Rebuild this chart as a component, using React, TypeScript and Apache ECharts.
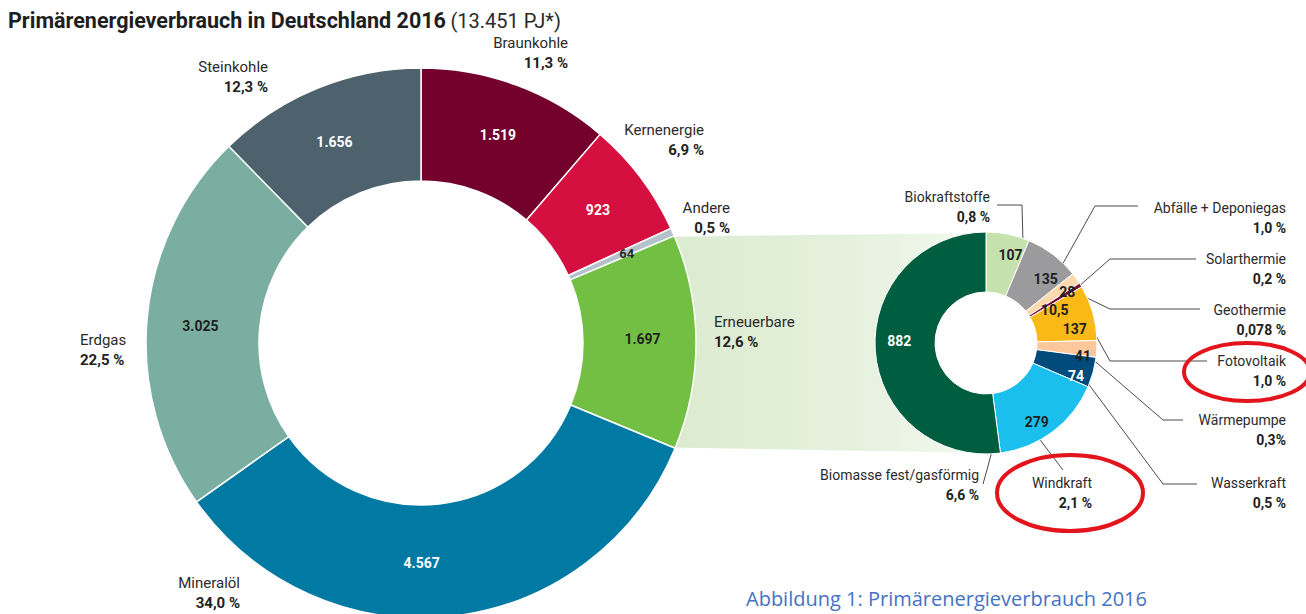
import React, { useEffect, useRef } from "react";
import * as echarts from "echarts";

// ---------- DATA ----------
const mainCategories = ["Braunkohle", "Kernenergie", "Andere", "Erneuerbare", "Mineralöl", "Erdgas", "Steinkohle"];
const mainValues = [1519, 923, 64, 1697, 4567, 3025, 1656];
const mainShares = ["11,3 %", "6,9 %", "0,5 %", "12,6 %", "34,0 %", "22,5 %", "12,3 %"];

const renewCategories = [
  "Biokraftstoffe",
  "Abfälle + Deponiegas",
  "Solarthermie",
  "Geothermie",
  "Fotovoltaik",
  "Wärmepumpe",
  "Wasserkraft",
  "Windkraft",
  "Biomasse fest/gasförmig",
];
const renewValues = [107, 135, 28, 10.5, 137, 41, 74, 279, 882];
const renewShares = ["0,8 %", "1,0 %", "0,2 %", "0,078 %", "1,0 %", "0,3%", "0,5 %", "2,1 %", "6,6 %"];

const titleMain = "Primärenergieverbrauch in Deutschland 2016";
const titleTotal = "(13.451 PJ*)";
const captionText = "Abbildung 1: Primärenergieverbrauch 2016";

// ---------- STYLES / LAYOUT ----------
const mainColors = ["#74002c", "#d51041", "#b3c2ca", "#72bf44", "#0079a3", "#7aaea0", "#4d626c"];
const mainValueText = ["#ffffff", "#ffffff", "#2a2a2a", "#1f1f1f", "#ffffff", "#1f1f1f", "#ffffff"];
const renewColors = ["#c5e1ae", "#9b9b9d", "#fdd9ad", "#7a0a32", "#fbb917", "#fbc79b", "#004b7c", "#1bbfee", "#005e40"];
const renewValueText = ["#1f1f1f", "#1f1f1f", "#1f1f1f", "#1f1f1f", "#1f1f1f", "#1f1f1f", "#ffffff", "#1f1f1f", "#ffffff"];

const MAIN_CENTER = [421, 343];
const MAIN_R = [162, 275];
const REN_CENTER = [986, 343];
const REN_R = [51, 111];

type Pos = { x: number; y: number; align: "left" | "right" | "center" };
const mainLabelPos: Pos[] = [
  { x: 568, y: 53, align: "right" },
  { x: 704, y: 140, align: "right" },
  { x: 730, y: 218, align: "right" },
  { x: 714, y: 332, align: "left" },
  { x: 240, y: 593, align: "right" },
  { x: 80, y: 350, align: "left" },
  { x: 268, y: 77, align: "right" },
];
const mainValueShift = [[0, 0], [0, 0], [3, 0], [0, -3], [-24, 0], [0, 3], [-3, 4]];

const renewLabelPos: Pos[] = [
  { x: 990, y: 207, align: "right" },
  { x: 1286, y: 218, align: "right" },
  { x: 1286, y: 269, align: "right" },
  { x: 1286, y: 320, align: "right" },
  { x: 1286, y: 371, align: "right" },
  { x: 1286, y: 430, align: "right" },
  { x: 1286, y: 493, align: "right" },
  { x: 1092, y: 493, align: "right" },
  { x: 979, y: 485, align: "right" },
];
const renewLeaders = [
  [[1023, 243], [1022, 205], [997, 205]],
  [[1061, 267], [1095, 206], [1138, 206]],
  [[1078, 287], [1110, 259], [1196, 259]],
  [[1085, 297], [1110, 309], [1200, 309]],
  [[1090, 325], [1110, 361], [1207, 361]],
  [[1090, 357], [1163, 420], [1183, 420]],
  [[1087, 382], [1163, 484], [1197, 484]],
  [[1038, 437], [1050, 453], [1063, 470]],
  [[993, 447], [988, 466], [983, 484]],
];
const renewValueShift = [[8, -6], [9, 3], [13, -2], [-3, 11], [8, 9], [13, 8], [9, 11], [0, 12], [-3, -7]];

function fmtDe(v: number): string {
  const [i, d] = String(v).split(".");
  const intPart = i.replace(/\B(?=(\d{3})+(?!\d))/g, ".");
  return d ? intPart + "," + d : intPart;
}

function polar(c: number[], r: number, deg: number): number[] {
  const a = (deg * Math.PI) / 180;
  return [c[0] + r * Math.cos(a), c[1] - r * Math.sin(a)];
}

export default function App() {
  const ref = useRef<HTMLDivElement>(null);

  useEffect(() => {
    if (!ref.current) return;
    const chart = echarts.init(ref.current, null, { renderer: "svg" });

    const mainTotal = mainValues.reduce((a, b) => a + b, 0);
    const ernIdx = mainCategories.indexOf("Erneuerbare");
    const before = mainValues.slice(0, ernIdx).reduce((a, b) => a + b, 0);
    const a0 = 90 - (before / mainTotal) * 360;
    const a1 = 90 - ((before + mainValues[ernIdx]) / mainTotal) * 360;

    const bandPts: number[][] = [];
    bandPts.push(polar(MAIN_CENTER, MAIN_R[1] - 2, a0));
    for (let d = 90; d <= 270; d += 5) bandPts.push(polar(REN_CENTER, REN_R[1] - 1, d));
    bandPts.push(polar(MAIN_CENTER, MAIN_R[1] - 2, a1));

    const font = "Roboto";

    const option: any = {
      animation: false,
      backgroundColor: "#ffffff",
      textStyle: { fontFamily: font },
      title: [
        {
          text: `{b|${titleMain}} {r|${titleTotal}}`,
          left: 8,
          top: 8,
          padding: 0,
          textStyle: {
            rich: {
              b: { fontFamily: font, fontSize: 21.5, fontWeight: "bold", color: "#1e1e1e", lineHeight: 25 },
              r: { fontFamily: font, fontSize: 20, fontWeight: "normal", color: "#2a2a2a", lineHeight: 25 },
            },
          },
        },
        {
          text: captionText,
          left: 746,
          top: 585,
          padding: 0,
          textStyle: {
            fontFamily: "Open Sans",
            fontSize: 20,
            lineHeight: 26,
            fontWeight: "normal",
            color: "#4472c4",
          },
        },
      ],
      graphic: [
        {
          type: "polygon",
          z: -10,
          shape: { points: bandPts },
          style: {
            fill: {
              type: "linear",
              x: 0,
              y: 0,
              x2: 1,
              y2: 0,
              colorStops: [
                { offset: 0, color: "#dbebcf" },
                { offset: 0.6, color: "#e6f1de" },
                { offset: 1, color: "#f4f9f1" },
              ],
            },
          },
          silent: true,
        },
        {
          type: "ellipse",
          z: 100,
          shape: { cx: 1247, cy: 372, rx: 63, ry: 29 },
          style: { fill: "none", stroke: "#e3141c", lineWidth: 4 },
          silent: true,
        },
        {
          type: "ellipse",
          z: 100,
          shape: { cx: 1070, cy: 493, rx: 73, ry: 38 },
          style: { fill: "none", stroke: "#e3141c", lineWidth: 4 },
          silent: true,
        },
      ],
      series: [
        {
          type: "pie",
          name: "main",
          center: MAIN_CENTER,
          radius: MAIN_R,
          startAngle: 90,
          clockwise: true,
          silent: true,
          avoidLabelOverlap: false,
          itemStyle: { borderColor: "#ffffff", borderWidth: 1.5 },
          label: {
            show: true,
            position: "inside",
            fontFamily: font,
            fontSize: 14,
            fontWeight: "bold",
            formatter: (p: any) => fmtDe(p.value),
          },
          labelLayout: (p: any) => {
            const s = mainValueShift[p.dataIndex];
            return { dx: s[0], dy: s[1] };
          },
          data: mainCategories.map((n, i) => ({
            name: n,
            value: mainValues[i],
            itemStyle: { color: mainColors[i] },
            label: { color: mainValueText[i], fontSize: n === "Andere" ? 13 : 14 },
          })),
        },
        {
          type: "pie",
          name: "mainLabels",
          center: MAIN_CENTER,
          radius: MAIN_R,
          startAngle: 90,
          silent: true,
          avoidLabelOverlap: false,
          itemStyle: { color: "rgba(0,0,0,0)", borderWidth: 0 },
          labelLine: { show: false },
          label: {
            show: true,
            position: "outside",
            formatter: (p: any) => `{n|${p.name}}\n{p|${mainShares[p.dataIndex]}}`,
          },
          labelLayout: (p: any) => {
            const L = mainLabelPos[p.dataIndex];
            return { x: L.x, y: L.y, align: L.align, verticalAlign: "middle" };
          },
          data: mainCategories.map((n, i) => {
            const al = mainLabelPos[i].align;
            return {
              name: n,
              value: mainValues[i],
              label: {
                align: al,
                rich: {
                  n: { fontFamily: font, fontSize: 15, color: "#2b2b2b", lineHeight: 20, align: al },
                  p: { fontFamily: font, fontSize: 15, fontWeight: "bold", color: "#222222", lineHeight: 20, align: al },
                },
              },
            };
          }),
        },
        {
          type: "pie",
          name: "renew",
          center: REN_CENTER,
          radius: REN_R,
          startAngle: 90,
          clockwise: true,
          silent: true,
          avoidLabelOverlap: false,
          itemStyle: { borderColor: "#ffffff", borderWidth: 1 },
          label: {
            show: true,
            position: "inside",
            fontFamily: font,
            fontSize: 14,
            fontWeight: "bold",
            formatter: (p: any) => fmtDe(p.value),
          },
          labelLayout: (p: any) => {
            const s = renewValueShift[p.dataIndex];
            return { dx: s[0], dy: s[1] };
          },
          data: renewCategories.map((n, i) => ({
            name: n,
            value: renewValues[i],
            itemStyle: { color: renewColors[i] },
            label: { color: renewValueText[i] },
          })),
        },
        {
          type: "pie",
          name: "renewLabels",
          center: REN_CENTER,
          radius: REN_R,
          startAngle: 90,
          silent: true,
          avoidLabelOverlap: false,
          itemStyle: { color: "rgba(0,0,0,0)", borderWidth: 0 },
          labelLine: { show: true, length: 10, length2: 10, lineStyle: { color: "#4a4a4a", width: 1 } },
          label: {
            show: true,
            position: "outside",
            formatter: (p: any) => `{n|${p.name}}\n{p|${renewShares[p.dataIndex]}}`,
          },
          labelLayout: (p: any) => {
            const L = renewLabelPos[p.dataIndex];
            return {
              x: L.x,
              y: L.y,
              align: L.align,
              verticalAlign: "middle",
              labelLinePoints: renewLeaders[p.dataIndex],
            };
          },
          data: renewCategories.map((n, i) => {
            const al = renewLabelPos[i].align;
            return {
              name: n,
              value: renewValues[i],
              label: {
                align: al,
                rich: {
                  n: { fontFamily: font, fontSize: 14, color: "#2b2b2b", lineHeight: 20, align: al },
                  p: { fontFamily: font, fontSize: 14, fontWeight: "bold", color: "#222222", lineHeight: 20, align: al },
                },
              },
            };
          }),
        },
      ],
    };

    chart.setOption(option);
    return () => chart.dispose();
  }, []);

  return (
    <div
      ref={ref}
      style={{ position: "absolute", left: 0, top: 0, width: 1306, height: 614, background: "#fff" }}
    />
  );
}
